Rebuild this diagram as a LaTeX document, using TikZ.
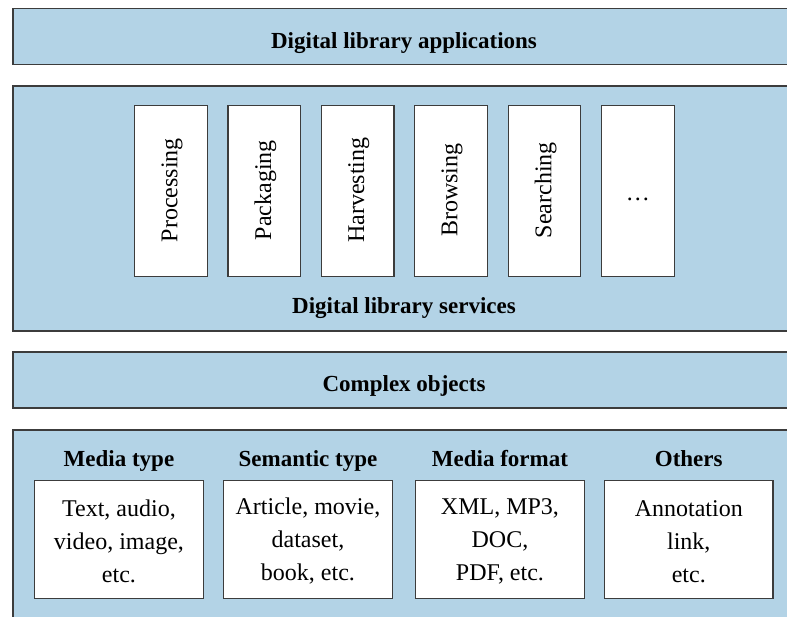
\documentclass[tikz,border=0pt]{standalone}
\usepackage{fontspec}
\setmainfont{Liberation Serif}
\definecolor{layerblue}{RGB}{179,211,230}
\definecolor{edgegray}{RGB}{60,60,60}
\tikzset{
  layer/.style={draw=edgegray, line width=1.3pt, fill=layerblue, anchor=north west,
    inner sep=0pt, outer sep=0pt},
  layertitle/.style={font=\fontsize{23}{28}\selectfont\bfseries, inner sep=0pt},
  svcbox/.style={draw=edgegray, line width=1.1pt, fill=white, anchor=north west,
    minimum width=72.7pt, minimum height=171pt, inner sep=0pt, outer sep=0pt},
  svctext/.style={font=\fontsize{24}{28}\selectfont, rotate=90, inner sep=0pt},
  objhead/.style={font=\fontsize{23}{28}\selectfont\bfseries, inner sep=0pt, anchor=base},
  objbox/.style={draw=edgegray, line width=1.1pt, fill=white, anchor=north west,
    minimum width=168.5pt, minimum height=117.6pt, inner sep=0pt, outer sep=0pt},
  objtext/.style={font=\fontsize{24}{33}\selectfont, align=center, inner sep=0pt}
}
\begin{document}
\begin{tikzpicture}[x=1pt, y=-1pt]
\useasboundingbox (0,0) rectangle (787,616);
\begin{scope}
\clip (0,0) rectangle (787,616);

% four horizontal layers
\node[layer, minimum width=782pt, minimum height=56pt] (apps) at (13,8.5) {};
\node[layer, minimum width=782pt, minimum height=245pt] (services) at (13,86) {};
\node[layer, minimum width=782pt, minimum height=56pt] (objects) at (13,352) {};
\node[layer, minimum width=782pt, minimum height=200pt] (types) at (13,430) {};

\node[layertitle] (appst) at (404,43) {Digital library applications};
\node[layertitle] (svct) at (404,308) {Digital library services};
\node[layertitle] (objt) at (404,386) {Complex objects};

% service columns
\node[svcbox] (s1) at (134.7,105.7) {};
\node[svcbox] (s2) at (228,105.7) {};
\node[svcbox] (s3) at (321.3,105.7) {};
\node[svcbox] (s4) at (414.7,105.7) {};
\node[svcbox] (s5) at (508.2,105.7) {};
\node[svcbox] (s6) at (601.5,105.7) {};
\node[svctext] at ([xshift=1pt,yshift=1pt]s1.center) {Processing};
\node[svctext] at ([xshift=1pt,yshift=1pt]s2.center) {Packaging};
\node[svctext] at ([xshift=1pt,yshift=1pt]s3.center) {Harvesting};
\node[svctext] at ([xshift=1pt,yshift=1pt]s4.center) {Browsing};
\node[svctext] at ([xshift=1pt,yshift=1pt]s5.center) {Searching};
\node[font=\fontsize{24}{28}\selectfont, inner sep=0pt] at ([yshift=-8pt]s6.center) {\dots};

% object type columns
\node[objbox] (o1) at (34.7,480.7) {};
\node[objbox] (o2) at (223.7,480.7) {};
\node[objbox] (o3) at (415.7,480.7) {};
\node[objbox] (o4) at (604.5,480.7) {};
\node[objhead] at (o1.center |- 0,466) {Media type};
\node[objhead] at (o2.center |- 0,466) {Semantic type};
\node[objhead] at (o3.center |- 0,466) {Media format};
\node[objhead] at (o4.center |- 0,466) {Others};
\node[objtext] at ([yshift=-2pt]o1.center) {Text, audio,\\video, image,\\etc.};
\node[objtext] at ([yshift=-2pt]o2.center) {Article, movie,\\dataset,\\book, etc.};
\node[objtext] at ([yshift=-2pt]o3.center) {XML, MP3,\\DOC,\\PDF, etc.};
\node[objtext] at ([yshift=-2pt]o4.center) {Annotation\\link,\\etc.};
\end{scope}
\end{tikzpicture}
\end{document}
